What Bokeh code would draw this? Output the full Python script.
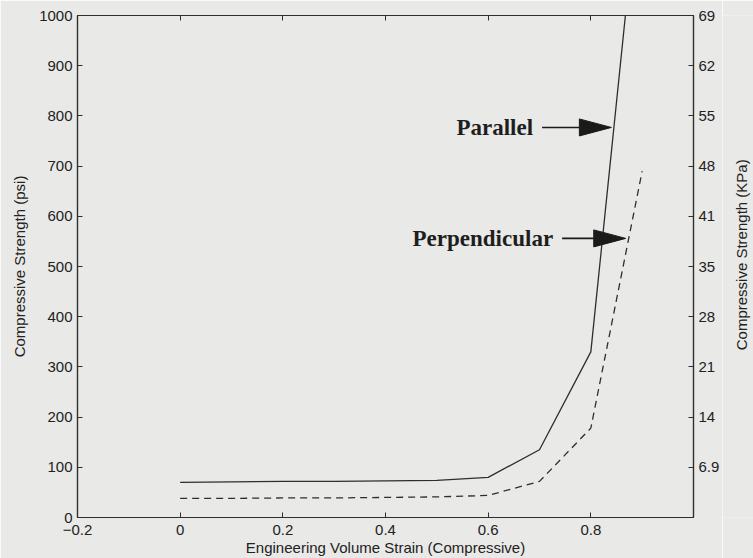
from bokeh.plotting import figure
from bokeh.layouts import row
from bokeh.models import (LinearAxis, Range1d, FixedTicker)
from bokeh.core.properties import value
from bokeh.embed import file_html
from bokeh.resources import INLINE
import math

# ---- data ----
strain = [0.0, 0.1, 0.2, 0.3, 0.4, 0.5, 0.6, 0.7, 0.8, 0.9]
parallel_psi = [70, 71, 72, 72, 73, 74, 80, 135, 330, 1325]
perpendicular_psi = [38, 38, 39, 39, 40, 41, 44, 72, 178, 690]

x_ticks = [-0.2, 0.0, 0.2, 0.4, 0.6, 0.8]
x_tick_labels = ["\u22120.2", "0", "0.2", "0.4", "0.6", "0.8"]
psi_ticks = [0, 100, 200, 300, 400, 500, 600, 700, 800, 900, 1000]
kpa_ticks_psi = [100, 200, 300, 400, 500, 600, 700, 800, 900, 1000]
kpa_labels = ["6.9", "14", "21", "28", "35", "41", "48", "55", "62", "69"]

x_title = "Engineering Volume Strain (Compressive)"
y_left_title = "Compressive Strength (psi)"
y_right_title = "Compressive Strength (KPa)"

# annotation anchors (data coordinates): label, arrow start x, arrow tip x, y
annot_labels = ["Parallel", "Perpendicular"]
annot_start_x = [0.705, 0.744]
annot_tip_x = [0.840, 0.868]
annot_y = [777, 556]

X_RANGE = (-0.2, 1.0)
Y_RANGE = (0, 1000)

W, H = 753, 558
STRIP = 31                      # width of the strip holding the right title
BL, BR, BT, BB = 77, 29, 15, 41
MAIN_W = W - STRIP
FW, FH = MAIN_W - BL - BR, H - BT - BB

INK = "#2e2e2e"
BG = "#e9e9e7"
TICK_FONT = "Liberation Sans"

p = figure(width=MAIN_W, height=H, output_backend="svg", toolbar_location=None,
           x_range=Range1d(*X_RANGE), y_range=Range1d(*Y_RANGE),
           min_border_left=BL, min_border_right=BR, min_border_top=BT,
           min_border_bottom=BB, x_axis_location=None, y_axis_location=None)
p.background_fill_color = BG
p.border_fill_color = BG
p.outline_line_color = INK
p.outline_line_width = 1.2
p.grid.visible = False


def style_axis(ax):
    ax.axis_line_color = INK
    ax.axis_line_width = 1.2
    ax.major_tick_line_color = INK
    ax.major_tick_in = 5
    ax.major_tick_out = 0
    ax.minor_tick_line_color = None
    ax.major_label_text_font = TICK_FONT
    ax.major_label_text_font_size = "15px"
    ax.major_label_text_color = "#222222"
    ax.axis_label_text_font = TICK_FONT
    ax.axis_label_text_font_size = "15px"
    ax.axis_label_text_font_style = "normal"
    ax.axis_label_text_color = "#222222"


xb = LinearAxis(ticker=FixedTicker(ticks=x_ticks), axis_label=x_title)
xb.major_label_overrides = {t: l for t, l in zip(x_ticks, x_tick_labels)}
style_axis(xb)
xb.major_label_standoff = 7
xb.axis_label_standoff = 1
p.add_layout(xb, "below")

xt = LinearAxis(ticker=FixedTicker(ticks=x_ticks))
style_axis(xt)
xt.major_label_overrides = {t: "" for t in x_ticks}
xt.major_label_standoff = 0
p.add_layout(xt, "above")

yl = LinearAxis(ticker=FixedTicker(ticks=psi_ticks), axis_label=y_left_title)
style_axis(yl)
yl.major_label_standoff = 5
yl.axis_label_standoff = 8
p.add_layout(yl, "left")

yr = LinearAxis(ticker=FixedTicker(ticks=kpa_ticks_psi))
yr.major_label_overrides = {t: l for t, l in zip(kpa_ticks_psi, kpa_labels)}
style_axis(yr)
yr.major_label_standoff = 5
p.add_layout(yr, "right")

# ---- series ----
p.line(strain, parallel_psi, line_color=INK, line_width=1.3)
p.line(strain, perpendicular_psi, line_color=INK, line_width=1.3,
       line_dash="7 5")

dx_px = (X_RANGE[1] - X_RANGE[0]) / FW
dy_px = (Y_RANGE[1] - Y_RANGE[0]) / FH

# ---- annotations: bold serif labels with filled arrows ----
HEAD_LEN, HEAD_HALF = 32, 8.5

seg_x0, seg_x1, heads_x, heads_y, text_x = [], [], [], [], []
for xs, xt_, y in zip(annot_start_x, annot_tip_x, annot_y):
    base = xt_ - HEAD_LEN * dx_px
    seg_x0.append(xs)
    seg_x1.append(base)
    heads_x.append([base, xt_, base])
    heads_y.append([y + HEAD_HALF * dy_px, y, y - HEAD_HALF * dy_px])
    text_x.append(xs - 9 * dx_px)

p.segment(x0=seg_x0, y0=annot_y, x1=seg_x1, y1=annot_y,
          line_color="#1a1a1a", line_width=1.6)
p.patches(xs=heads_x, ys=heads_y, fill_color="#1a1a1a", line_color="#1a1a1a")
p.text(x=text_x, y=annot_y, text=annot_labels,
       text_font=value("Liberation Serif"), text_font_style="bold",
       text_font_size="23px", text_color="#1e1e1e",
       text_align="right", text_baseline="middle")

# ---- right-hand title in a narrow strip, reading bottom to top ----
s = figure(width=STRIP, height=H, output_backend="svg", toolbar_location=None,
           x_range=Range1d(0, STRIP), y_range=Range1d(0, H),
           min_border=0, x_axis_location=None, y_axis_location=None)
s.background_fill_color = BG
s.border_fill_color = BG
s.outline_line_color = None
s.grid.visible = False
s.text(x=[19], y=[BB + FH / 2], text=[y_right_title], angle=math.pi / 2,
       text_font=value(TICK_FONT), text_font_size="15px", text_color="#222222",
       text_align="center", text_baseline="middle")

layout = row(p, s, spacing=0)
open("out.html", "w").write(file_html(layout, INLINE))
